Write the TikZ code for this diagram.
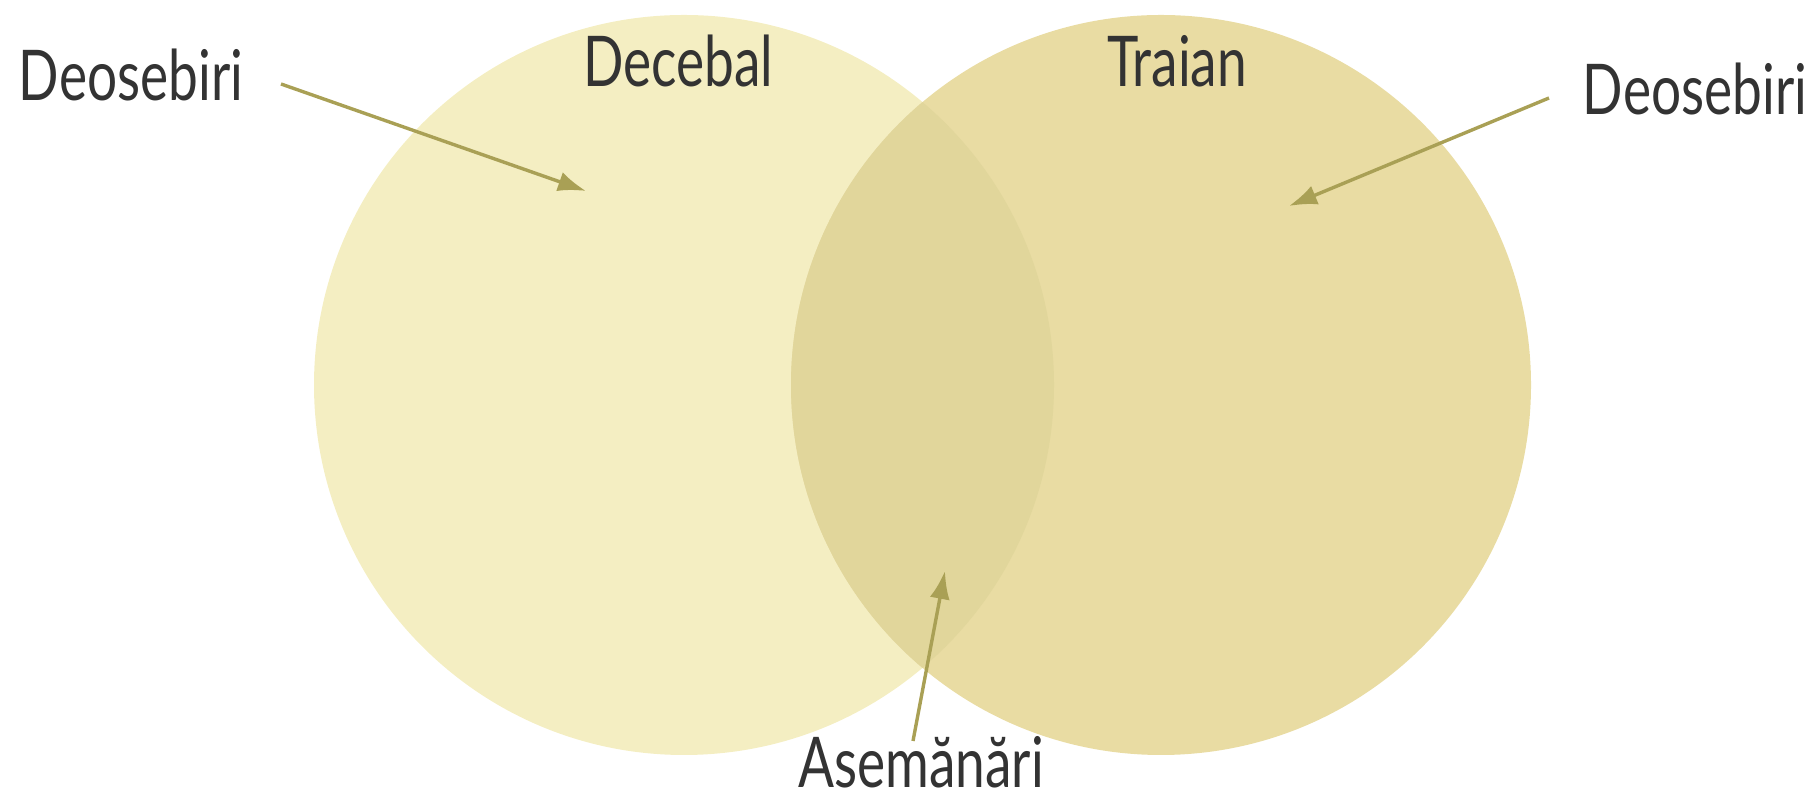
\documentclass[tikz,border=0pt]{standalone}
\usepackage{fontspec}
\setmainfont[FakeStretch=0.76]{Lato}
\usepackage{xcolor}
\usetikzlibrary{arrows.meta,positioning,calc}
\definecolor{DC}{HTML}{F4EEC2}
\definecolor{TR}{HTML}{E9DCA3}
\definecolor{MX}{HTML}{E1D69B}
\definecolor{AR}{HTML}{A9A055}
\definecolor{TX}{HTML}{333333}

\begin{document}
\begin{tikzpicture}[x=0.5pt,y=0.5pt,
    lbl/.style={text=TX, font=\fontsize{35}{40}\selectfont, inner sep=0pt, anchor=base},
    pointer/.style={draw=AR, line width=1.7pt, -{Latex[length=14pt,width=10pt]}}]
  \useasboundingbox (0,0) rectangle (1813,801);
  % circles
  \fill[DC] (684,416) circle (370);
  \fill[TR] (1161,416) circle (370);
  \begin{scope}
    \clip (684,416) circle (370);
    \fill[MX] (1161,416) circle (370);
  \end{scope}
  % labels
  \node[lbl] (decebal) at (678,714) {Decebal};
  \node[lbl] (traian) at (1177,714) {Traian};
  \node[lbl] (deosL) at (131,700) {Deosebiri};
  \node[lbl] (deosR) at (1695,686) {Deosebiri};
  \node[lbl] (asem) at (921,13) {Asemănări};
  % arrow ends
  \coordinate (fromL) at (281,717);
  \coordinate (tipL) at (586,610);
  \coordinate (fromR) at (1549,703);
  \coordinate (tipR) at (1289,595);
  \coordinate (fromM) at (913,60);
  \coordinate (tipM) at (945,230);
  \draw[pointer] (fromL) -- (tipL);
  \draw[pointer] (fromR) -- (tipR);
  \draw[pointer] (fromM) -- (tipM);
\end{tikzpicture}
\end{document}
